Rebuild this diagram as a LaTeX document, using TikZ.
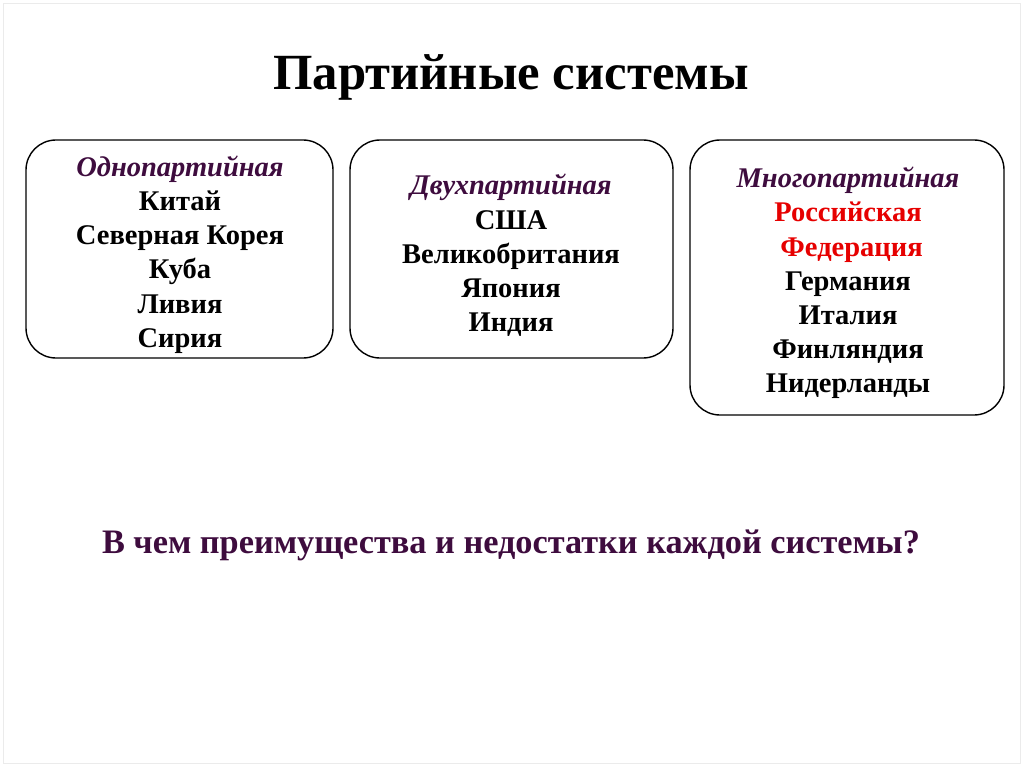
\documentclass[tikz,border=0pt]{standalone}
\usepackage{fontspec}
\setmainfont{Liberation Serif}
\definecolor{hdrpurple}{RGB}{62,12,62}
\definecolor{rusred}{RGB}{230,0,0}
\begin{document}
\begin{tikzpicture}[x=1pt,y=-1pt,
  frame/.style={draw=black,line width=1.4pt,rounded corners=30pt},
  boxtext/.style={align=center,inner sep=0pt,font=\fontsize{28.5}{34.2}\selectfont\bfseries}]
\useasboundingbox (0,0) rectangle (1024,767);
\draw[black!8,line width=0.8pt] (3,3) rectangle (1020,763);
\node[font=\fontsize{50.7}{58}\selectfont\bfseries,inner sep=0pt] (title) at (511,77) {Партийные системы};
\draw[frame] (26,140) rectangle (333,358);
\draw[frame] (350,140) rectangle (673,358);
\draw[frame] (690,140) rectangle (1004,415);
\node[boxtext] (t1) at (180,254.5) {{\itshape\color{hdrpurple}Однопартийная}\\Китай\\Северная Корея\\Куба\\Ливия\\Сирия};
\node[boxtext] (t2) at (511,255.5) {{\itshape\color{hdrpurple}Двухпартийная}\\США\\Великобритания\\Япония\\Индия};
\node[boxtext] (t3) at (848,283) {{\itshape\color{hdrpurple}Многопартийная}\\{\color{rusred}Российская}\\{\color{rusred}\ Федерация}\\Германия\\Италия\\Финляндия\\Нидерланды};
\node[font=\fontsize{34.3}{40}\selectfont\bfseries,text=hdrpurple,inner sep=0pt] (q) at (511,545) {В чем преимущества и недостатки каждой системы?};
\end{tikzpicture}
\end{document}
